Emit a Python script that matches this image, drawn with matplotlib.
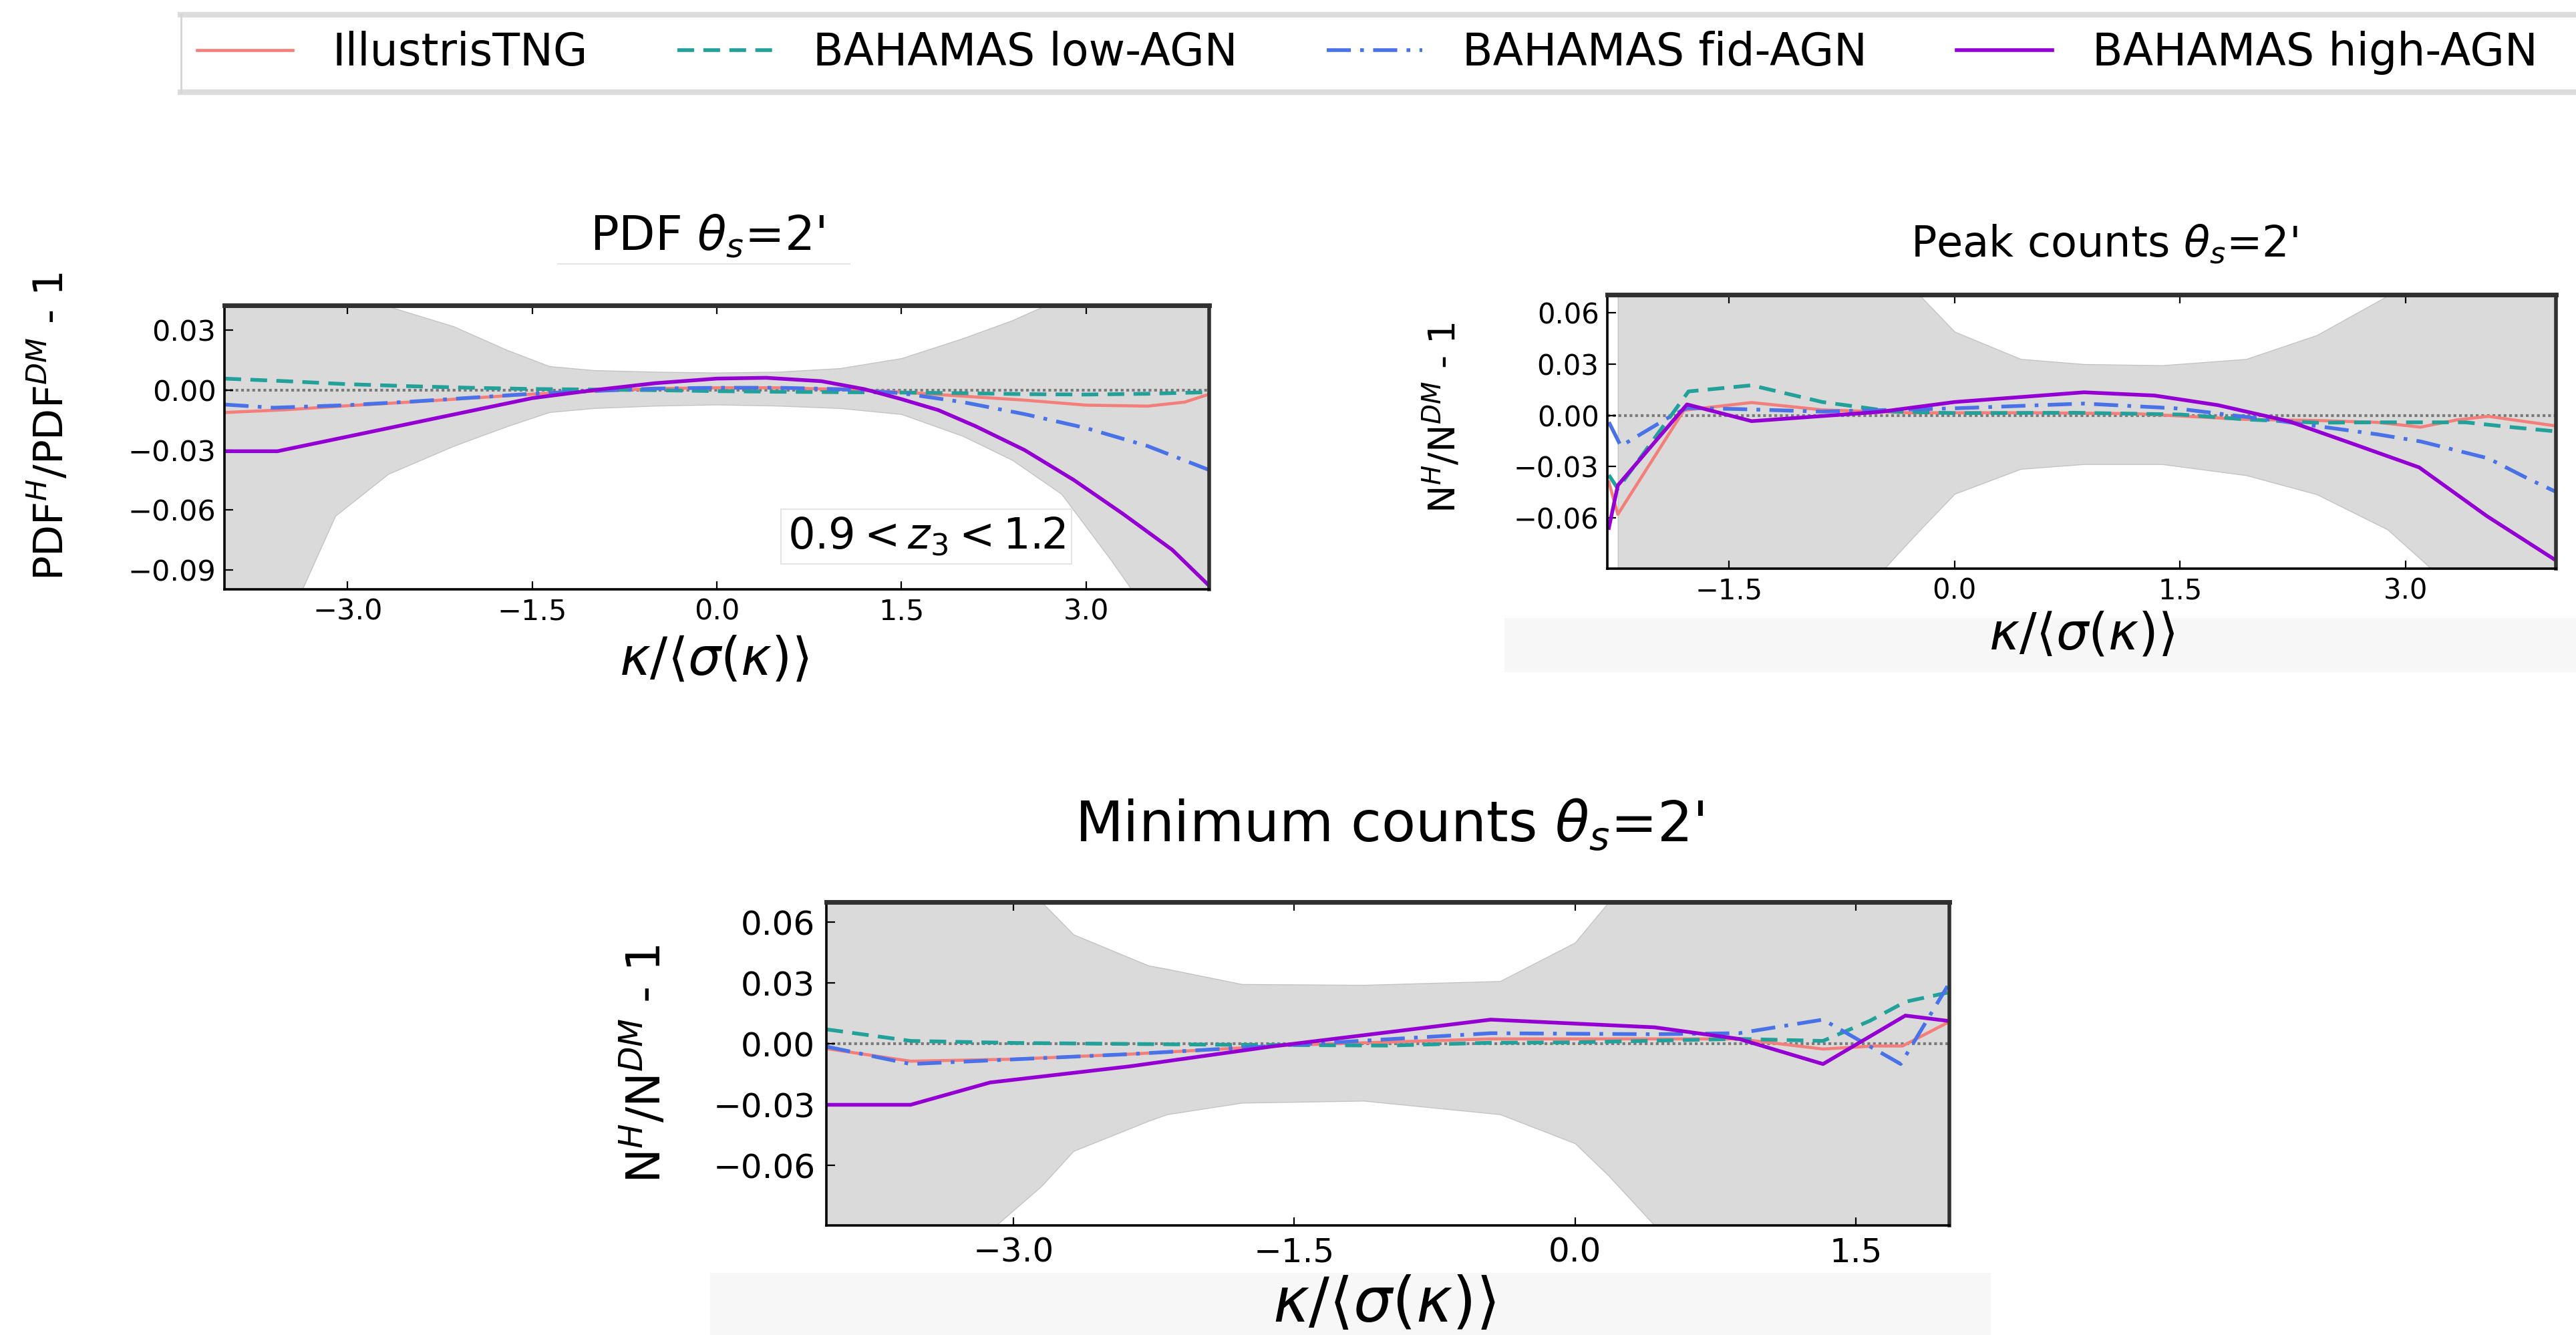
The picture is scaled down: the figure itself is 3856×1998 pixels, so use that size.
import matplotlib
matplotlib.use('Agg')
import matplotlib.pyplot as plt
from matplotlib.ticker import MultipleLocator
from matplotlib.patches import Rectangle
from matplotlib.lines import Line2D

W, H = 3856, 1998
fig = plt.figure(figsize=(W / 100, H / 100), dpi=100)


def fx(px):
    return px / W


def fy(py):
    return 1 - py / H


names = ['IllustrisTNG', 'BAHAMAS low-AGN', 'BAHAMAS fid-AGN', 'BAHAMAS high-AGN']
colors = ['#f47f7a', '#22a09a', '#4a72e8', '#9400d3']
styles = ['-', (0, (4.5, 2.5)), (0, (6.5, 2.5, 1, 2.5)), '-']
widths = [3.3, 4.0, 4.0, 4.0]

# ---- PDF panel
pdf_band_x = [-4.0, -3.6, -3.37, -3.1, -2.67, -2.14, -1.7, -1.36, -1.0, -0.5, 0.0,
              0.5, 1.0, 1.5, 2.0, 2.4, 2.8, 3.2, 3.6, 4.0]
pdf_band_hi = [0.12, 0.09, 0.07, 0.055, 0.042, 0.032, 0.020, 0.012, 0.010, 0.0092, 0.0088,
               0.0092, 0.011, 0.016, 0.026, 0.035, 0.046, 0.06, 0.08, 0.11]
pdf_band_lo = [-0.16, -0.13, -0.10, -0.063, -0.042, -0.028, -0.018, -0.011, -0.009, -0.0078, -0.0072,
               -0.0078, -0.009, -0.012, -0.023, -0.035, -0.052, -0.085, -0.12, -0.16]

pdf_tng_x = [-4, -3.5, -3, -2.5, -2, -1.5, -1, -0.5, 0, 0.5, 1, 1.5, 2, 2.5, 3, 3.5, 3.8, 4]
pdf_tng_y = [-0.0112, -0.0098, -0.0078, -0.006, -0.004, -0.002, -0.0005, 0.0008, 0.0012, 0.0012,
             0.0004, -0.001, -0.003, -0.005, -0.0075, -0.008, -0.006, -0.002]
pdf_low_x = [-4, -3.5, -3, -2.5, -2, -1.5, -1, -0.5, 0, 0.5, 1, 1.5, 2, 2.5, 3, 3.5, 4]
pdf_low_y = [0.0058, 0.0045, 0.0030, 0.0020, 0.0012, 0.0006, 0.0003, 0.0, -0.0005, -0.0008,
             -0.0010, -0.0012, -0.0015, -0.0020, -0.0022, -0.0018, -0.0010]
pdf_fid_x = [-4, -3.6, -3, -2.5, -2, -1.5, -1, -0.5, 0, 0.5, 1, 1.5, 2, 2.5, 3, 3.5, 4]
pdf_fid_y = [-0.0072, -0.0088, -0.0075, -0.0058, -0.0038, -0.0018, -0.0004, 0.0008, 0.0012, 0.0012,
             0.0005, -0.0015, -0.006, -0.012, -0.019, -0.028, -0.04]
pdf_high_x = [-4.0, -3.57, -2.9, -2.2, -1.5, -1.0, -0.5, 0.0, 0.4, 0.85, 1.2, 1.5, 1.8, 2.1,
              2.5, 2.9, 3.3, 3.7, 4.0]
pdf_high_y = [-0.0306, -0.0306, -0.022, -0.013, -0.004, 0.0, 0.0035, 0.0058, 0.0062, 0.0045,
              0.0005, -0.0045, -0.010, -0.018, -0.030, -0.045, -0.062, -0.08, -0.098]

# ---- Peak counts panel
peak_band_x = [-2.24, -1.5, -0.8, -0.46, -0.24, 0.0, 0.44, 0.86, 1.38, 1.94, 2.41, 2.88, 3.16, 3.6, 4.0]
peak_band_hi = [0.2, 0.15, 0.10, 0.085, 0.071, 0.049, 0.033, 0.030, 0.0293, 0.033, 0.047, 0.070,
                0.085, 0.12, 0.15]
peak_band_lo = [-0.2, -0.15, -0.11, -0.089, -0.068, -0.046, -0.0314, -0.0286, -0.0286, -0.0351,
                -0.0463, -0.0669, -0.089, -0.13, -0.17]

peak_tng_x = [-2.30, -2.24, -1.80, -1.35, -0.88, -0.3, 0.5, 1.2, 1.94, 2.4, 2.81, 3.10, 3.34, 3.55, 4.0]
peak_tng_y = [-0.039, -0.058, 0.003, 0.0075, 0.0032, 0.0015, 0.0015, 0.001, -0.0024, -0.003,
              -0.0041, -0.0069, -0.0027, -0.0006, -0.0062]
peak_low_x = [-2.30, -2.24, -1.77, -1.35, -0.88, -0.41, 0.0, 0.8, 1.5, 1.94, 2.41, 2.81, 3.40, 3.70, 4.0]
peak_low_y = [-0.035, -0.043, 0.014, 0.0176, 0.0078, 0.0022, 0.0013, 0.0015, 0.0005, -0.0024,
              -0.0043, -0.0041, -0.0041, -0.0069, -0.0094]
peak_fid_x = [-2.30, -2.22, -1.89, -1.78, -1.45, -0.88, 0.0, 0.86, 1.47, 2.17, 2.81, 3.10, 3.55, 3.83, 4.0]
peak_fid_y = [-0.004, -0.018, -0.0006, 0.0043, 0.0037, 0.0022, 0.0041, 0.0069, 0.0041, -0.0034,
              -0.0111, -0.0153, -0.0252, -0.0378, -0.0448]
peak_high_x = [-2.30, -2.24, -1.78, -1.35, -0.5, 0.0, 0.86, 1.33, 1.75, 2.22, 2.64, 3.09, 3.54, 4.0]
peak_high_y = [-0.066, -0.041, 0.0064, -0.0034, 0.002, 0.0078, 0.0135, 0.0116, 0.006, -0.0034,
               -0.0164, -0.0305, -0.059, -0.085]

# ---- Minimum counts panel
min_band_x = [-4.0, -3.5, -3.1, -2.85, -2.68, -2.28, -2.18, -1.78, -1.13, -0.4, 0.0, 0.18, 0.43, 1.0, 2.0]
min_band_hi = [0.2, 0.13, 0.09, 0.07, 0.054, 0.0387, 0.037, 0.0295, 0.0291, 0.031, 0.050, 0.07,
               0.10, 0.15, 0.2]
min_band_lo = [-0.2, -0.14, -0.09, -0.07, -0.0528, -0.038, -0.0347, -0.029, -0.028, -0.0347,
               -0.049, -0.065, -0.09, -0.15, -0.2]

min_tng_x = [-4.0, -3.55, -3.0, -2.375, -1.5, -0.45, 0.425, 0.875, 1.325, 1.6, 1.75, 1.99]
min_tng_y = [-0.0023, -0.0085, -0.0075, -0.005, -0.0005, 0.0025, 0.0025, 0.0025, -0.0025, -0.001,
             -0.001, 0.0105]
min_low_x = [-4.0, -3.55, -3.0, -2.0, -1.0, -0.45, 0.0, 0.875, 1.325, 1.575, 1.765, 1.99]
min_low_y = [0.0072, 0.0015, 0.0005, -0.0003, -0.0008, 0.0006, 0.0008, 0.0025, 0.0015, 0.0114,
             0.0208, 0.0253]
min_fid_x = [-4.0, -3.55, -2.375, -1.5, -0.45, 0.425, 0.875, 1.325, 1.74, 1.99]
min_fid_y = [-0.0013, -0.0099, -0.005, -0.0004, 0.0053, 0.0048, 0.0053, 0.012, -0.0099, 0.0285]
min_high_x = [-4.0, -3.55, -3.125, -2.375, -1.625, -0.45, 0.425, 0.875, 1.325, 1.765, 1.99]
min_high_y = [-0.030, -0.030, -0.019, -0.011, -0.0013, 0.012, 0.0082, 0.0025, -0.0099, 0.014, 0.0114]


def make_axes(l, t, r, b):
    return fig.add_axes([fx(l), fy(b), fx(r - l), (b - t) / H])


def draw_panel(ax, band, curves, xlim, ylim, tick_fs, pad):
    bx, bhi, blo = band
    ax.fill_between(bx, blo, bhi, facecolor='#dadada', edgecolor='#c4c4c4', lw=1, zorder=1)
    ax.axhline(0, color='#7a7a7a', ls=(0, (1, 1)), lw=3, zorder=1.5)
    for (x, y), c, s, w in zip(curves, colors, styles, widths):
        ax.plot(x, y, color=c, ls=s, lw=w, zorder=2)
    ax.set_xlim(*xlim)
    ax.set_ylim(*ylim)
    ax.xaxis.set_major_locator(MultipleLocator(1.5))
    ax.yaxis.set_major_locator(MultipleLocator(0.03))
    ax.tick_params(direction='in', length=9, width=1.6, labelsize=tick_fs,
                   top=True, right=False, pad=pad)
    for side in ['left', 'bottom']:
        ax.spines[side].set_linewidth(2.6)
    ax.spines['top'].set_linewidth(5)
    ax.spines['top'].set_color('#303030')
    ax.spines['right'].set_linewidth(4)
    ax.spines['right'].set_color('#303030')


# light background strips behind some x labels
fig.patches.append(Rectangle((fx(2252), fy(1006)), fx(3856 - 2252), 81 / H,
                             transform=fig.transFigure, fc='#f7f7f7', ec='none', zorder=0))
fig.patches.append(Rectangle((fx(1063), fy(1998)), fx(2980 - 1063), 93 / H,
                             transform=fig.transFigure, fc='#f7f7f7', ec='none', zorder=0))

ax1 = make_axes(336, 457, 1810, 882)
draw_panel(ax1, (pdf_band_x, pdf_band_hi, pdf_band_lo),
           [(pdf_tng_x, pdf_tng_y), (pdf_low_x, pdf_low_y), (pdf_fid_x, pdf_fid_y),
            (pdf_high_x, pdf_high_y)],
           (-4.0, 4.0), (-0.0998, 0.0425), 31, 9)
ax1.text(0.713, 0.186, r'$0.9 < z_3 < 1.2$', transform=ax1.transAxes, fontsize=46,
         ha='center', va='center', zorder=5,
         bbox=dict(boxstyle='square,pad=0.15', fc='white', ec='#e4e4e4', lw=1.5))

ax2 = make_axes(2406, 441, 3826, 851)
draw_panel(ax2, (peak_band_x, peak_band_hi, peak_band_lo),
           [(peak_tng_x, peak_tng_y), (peak_low_x, peak_low_y), (peak_fid_x, peak_fid_y),
            (peak_high_x, peak_high_y)],
           (-2.31, 4.0), (-0.0898, 0.0707), 30, 9)

ax3 = make_axes(1237, 1350, 2918, 1834)
draw_panel(ax3, (min_band_x, min_band_hi, min_band_lo),
           [(min_tng_x, min_tng_y), (min_low_x, min_low_y), (min_fid_x, min_fid_y),
            (min_high_x, min_high_y)],
           (-4.0, 2.0), (-0.0895, 0.07), 36, 12)

xlab = r'$\kappa/\langle\sigma(\kappa)\rangle$'
fig.text(fx(1058), fy(354), r"PDF $\theta_s$=2'", fontsize=51, ha='center', va='center')
fig.add_artist(Line2D([fx(835), fx(1272)], [fy(395), fy(395)], color='#e6e6e6', lw=1.5))
fig.text(fx(76), fy(638), r'PDF$^H$/PDF$^{DM}$ - 1', fontsize=44, rotation=90,
         ha='center', va='center')
fig.text(fx(1069), fy(988), xlab, fontsize=56, ha='center', va='center')

fig.text(fx(3150), fy(365), r"Peak counts $\theta_s$=2'", fontsize=46, ha='center', va='center')
fig.text(fx(2160), fy(625), r'N$^H$/N$^{DM}$ - 1', fontsize=40, rotation=90,
         ha='center', va='center')
fig.text(fx(3116), fy(950), xlab, fontsize=55, ha='center', va='center')

fig.text(fx(2080), fy(1235), r"Minimum counts $\theta_s$=2'", fontsize=60, ha='center', va='center')
fig.text(fx(966), fy(1592), r'N$^H$/N$^{DM}$ - 1', fontsize=50, rotation=90,
         ha='center', va='center')
fig.text(fx(2072), fy(1952), xlab, fontsize=66, ha='center', va='center')

# legend across the top
handles = [Line2D([], [], color=c, ls=s, lw=w) for c, s, w in zip(colors, styles, widths)]
fig.legend(handles, names, loc='center left', bbox_to_anchor=(fx(268), fy(79)), ncol=4,
           frameon=False, fontsize=48, handlelength=2.15, handletextpad=0.9,
           columnspacing=2.0, borderpad=0.4, borderaxespad=0)
fig.add_artist(Line2D([fx(270), 1.0], [fy(22), fy(22)], color='#dcdcdc', lw=6))
fig.add_artist(Line2D([fx(270), 1.0], [fy(138), fy(138)], color='#dcdcdc', lw=6))
fig.add_artist(Line2D([fx(271), fx(271)], [fy(22), fy(138)], color='#d4d4d4', lw=2))

fig.savefig('out.png', dpi=100, facecolor='white')
